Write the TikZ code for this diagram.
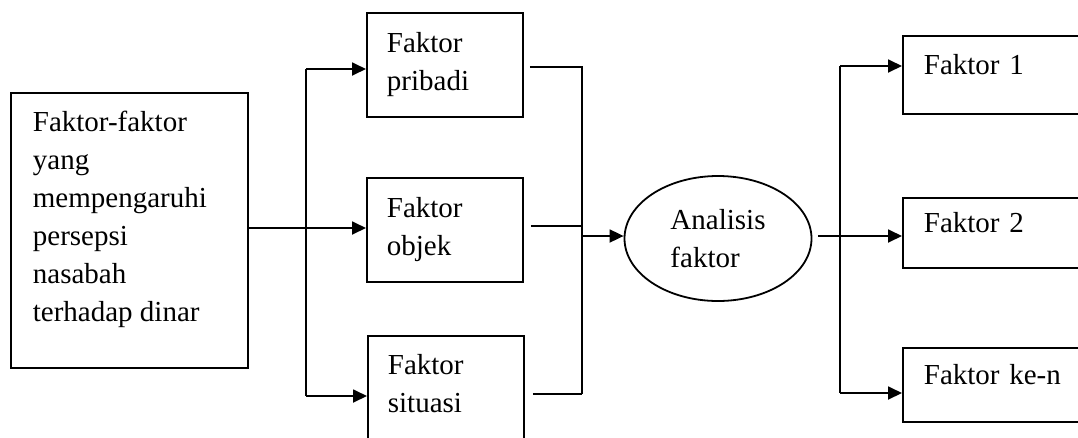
\documentclass[tikz,border=0pt]{standalone}
\usepackage{fontspec}
\setmainfont{Liberation Serif}
\usetikzlibrary{arrows.meta,shapes.geometric}
\begin{document}
\begin{tikzpicture}[x=1pt,y=-1pt,line width=1.8pt,
  every node/.style={font=\fontsize{29}{38}\selectfont},
  box/.style={draw,rectangle,inner xsep=20pt,inner ysep=0pt,align=left,anchor=north west,text width=116pt,minimum height=104pt},
  rbox/.style={draw,rectangle,inner xsep=21pt,inner ysep=0pt,align=left,anchor=north west,text width=159pt,text height=20pt,text depth=20pt},
  plain/.style={anchor=north west,inner sep=0pt,align=left},
  arr/.style={-{Triangle[length=14pt,width=13pt]}}]
\useasboundingbox (0,0) rectangle (1078,437);
% source box
\node[draw,rectangle,minimum width=237pt,minimum height=275pt,anchor=north west,inner sep=0pt] (src) at (10,92) {};
\node[plain] (srctext) at (32,110)
  {Faktor-faktor\\yang\\mempengaruhi\\persepsi\\nasabah\\terhadap dinar};
% middle boxes
\node[box] (pribadi) at (366,12) {Faktor\\pribadi};
\node[box] (objek) at (366,177) {Faktor\\objek};
\node[draw,rectangle,minimum width=156pt,minimum height=104pt,anchor=north west,inner sep=0pt] (situasi) at (367,335) {};
\node[plain] (situasitext) at (387,353) {Faktor\\situasi};
% ellipse
\node[draw,ellipse,minimum width=187pt,minimum height=125pt,inner sep=0pt,align=left] (ana) at (718,238.5) {Analisis\\faktor};
% right boxes
\node[rbox,minimum height=78pt] (f1) at (902,35) {Faktor 1};
\node[rbox,minimum height=70pt] (f2) at (902,197) {Faktor 2};
\node[rbox,minimum height=74pt] (fn) at (902,347) {Faktor ke-n};
% junction coordinates
\coordinate (j) at (306,228);
\coordinate (p1) at (306,69);
\coordinate (p3) at (306,396);
\coordinate (mt) at (582,67);
\coordinate (mm) at (582,226);
\coordinate (me) at (582,236);
\coordinate (mb) at (582,394);
\coordinate (rt) at (840,66);
\coordinate (rm) at (840,236);
\coordinate (rb) at (840,393);
% left fan-out
\draw[arr] (src.east |- j) -- (objek.west |- j);
\draw (p1) -- (p3);
\draw[arr] (p1) -- (pribadi.west |- p1);
\draw[arr] (p3) -- (situasi.west |- p3);
% merge
\draw[shorten <=6pt] (pribadi.east |- mt) -- (mt) -- (mb);
\draw[shorten <=7pt] (objek.east |- mm) -- (mm);
\draw[shorten <=8pt] (situasi.east |- mb) -- (mb);
\draw[arr] (me) -- (ana.west |- me);
% right fan-out
\draw[arr,shorten <=6pt] (ana.east |- rm) -- (f2.west |- rm);
\draw (rt) -- (rb);
\draw[arr] (rt) -- (f1.west |- rt);
\draw[arr] (rb) -- (fn.west |- rb);
\end{tikzpicture}
\end{document}
